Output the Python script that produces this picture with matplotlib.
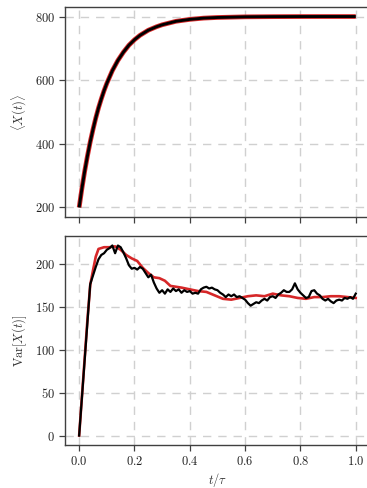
import numpy as np
import matplotlib
matplotlib.use("Agg")
import matplotlib.pyplot as plt

plt.rcParams.update({
    "font.family": "serif",
    "font.serif": ["cmr10"],
    "mathtext.fontset": "cm",
    "axes.formatter.use_mathtext": True,
    "font.size": 9,
    "axes.labelsize": 9,
    "xtick.labelsize": 9,
    "ytick.labelsize": 9,
})

# ── data ─────────────────────────────────────────────────────────────────
t_mean = [0.00, 0.01, 0.02, 0.03, 0.04, 0.05, 0.06, 0.07, 0.08, 0.09, 0.10,
          0.12, 0.14, 0.16, 0.18, 0.20, 0.22, 0.25, 0.28, 0.30, 0.35, 0.40,
          0.45, 0.50, 0.55, 0.60, 0.70, 0.80, 0.90, 1.00]
mean_x = [200, 260, 314, 362, 406, 445, 481, 513, 541, 567, 590,
          630, 662, 688, 710, 727, 741, 757, 768, 774, 785, 791,
          795, 797, 798, 799, 799.6, 799.9, 800, 800]

t_var_red = [0.00, 0.01, 0.02, 0.03, 0.04, 0.05, 0.06, 0.07, 0.09, 0.11,
             0.13, 0.15, 0.17, 0.19, 0.21, 0.23, 0.25, 0.27, 0.29, 0.31,
             0.33, 0.35, 0.37, 0.40, 0.43, 0.46, 0.49, 0.52, 0.55, 0.58,
             0.61, 0.64, 0.67, 0.70, 0.73, 0.76, 0.79, 0.82, 0.85, 0.88,
             0.91, 0.94, 0.97, 1.00]
var_red = [0, 45, 90, 135, 175, 192, 208, 217, 219, 219,
           220, 216, 210, 206, 203, 195, 189, 184, 183, 180,
           174, 173, 172, 170, 168, 167, 163, 159, 158, 160,
           162, 163, 162, 165, 163, 162, 160, 159, 161, 161,
           162, 162, 161, 160]

t_var_black = [round(0.01 * i, 2) for i in range(101)]
var_black = [0, 44, 88, 132, 176, 186, 196, 205, 210, 212,
             216, 218, 221, 212, 221, 219, 213, 206, 198, 194,
             195, 193, 196, 194, 189, 184, 187, 178, 171, 166,
             169, 165, 170, 167, 171, 168, 170, 166, 169, 167,
             168, 165, 166, 165, 170, 172, 173, 171, 172, 170,
             169, 166, 164, 161, 164, 162, 164, 161, 162, 160,
             158, 154, 151, 153, 155, 154, 157, 159, 157, 161,
             162, 160, 164, 166, 169, 167, 167, 170, 177, 170,
             166, 163, 160, 161, 168, 169, 165, 163, 159, 157,
             159, 156, 154, 157, 158, 157, 160, 159, 161, 159,
             165]

RED = "#d62728"
FRAME = "#404040"

fig = plt.figure(figsize=(3.67, 4.88), dpi=100)
ax1 = fig.add_axes([0.178, 0.5553, 0.829, 0.4304])
ax2 = fig.add_axes([0.178, 0.0881, 0.829, 0.4283], sharex=ax1)

ax1.plot(t_mean, mean_x, color=RED, lw=3.4, solid_capstyle="butt", zorder=3)
ax1.plot(t_mean, mean_x, color="black", lw=2.1, solid_capstyle="butt", zorder=4)

ax2.plot(t_var_red, var_red, color=RED, lw=1.9, zorder=3)
ax2.plot(t_var_black, var_black, color="black", lw=1.6, zorder=4)

for ax in (ax1, ax2):
    ax.grid(True, color="#d0d0d0", linestyle=(0, (6, 5)), linewidth=1.0, zorder=0)
    ax.set_axisbelow(True)
    for s in ax.spines.values():
        s.set_color(FRAME)
        s.set_linewidth(1.0)
    ax.tick_params(direction="out", length=4, width=0.9, color=FRAME,
                   labelcolor="#222222")

ax1.set_yticks([200, 400, 600, 800])
ax1.tick_params(labelbottom=False)
ax1.set_ylabel(r"$\langle X(t)\rangle$", color="#333333")

ax2.set_yticks([0, 50, 100, 150, 200])
ax2.set_xticks([0.0, 0.2, 0.4, 0.6, 0.8, 1.0])
ax2.set_ylabel(r"$\mathrm{Var}[X(t)]$", color="#333333")
ax2.set_xlabel(r"$t/\tau$", color="#333333", labelpad=1.5)
ax2.set_xlim(-0.05, 1.05)

fig.savefig("out.png", dpi=100)
